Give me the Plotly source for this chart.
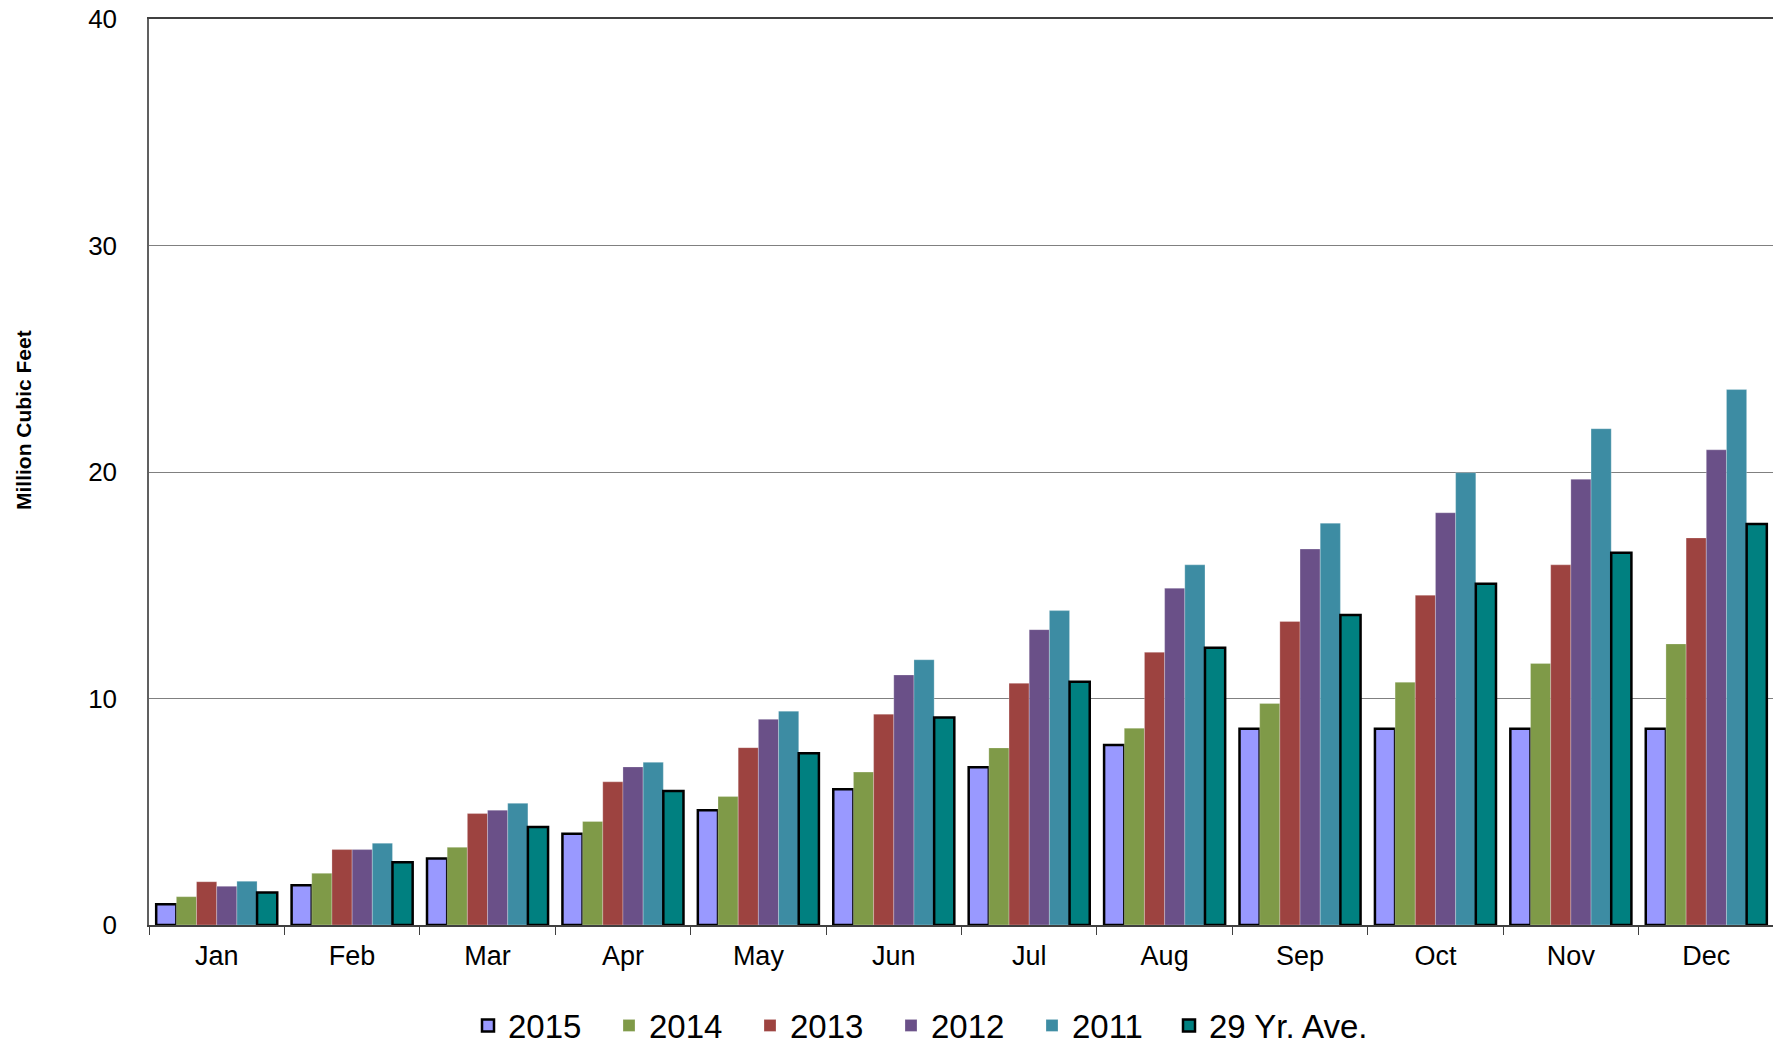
import plotly.graph_objects as go

months = ["Jan", "Feb", "Mar", "Apr", "May", "Jun", "Jul", "Aug", "Sep", "Oct", "Nov", "Dec"]
y2015 = [0.92, 1.75, 2.94, 4.03, 5.07, 5.99, 6.97, 7.95, 8.66, 8.66, 8.66, 8.66]
y2014 = [1.25, 2.28, 3.43, 4.57, 5.67, 6.75, 7.82, 8.69, 9.78, 10.72, 11.55, 12.41]
y2013 = [1.91, 3.33, 4.92, 6.32, 7.83, 9.31, 10.67, 12.04, 13.40, 14.56, 15.90, 17.09]
y2012 = [1.71, 3.33, 5.07, 6.98, 9.08, 11.04, 13.04, 14.87, 16.60, 18.20, 19.68, 20.98]
y2011 = [1.93, 3.61, 5.37, 7.18, 9.44, 11.71, 13.88, 15.90, 17.74, 19.97, 21.91, 23.64]
yavg = [1.44, 2.77, 4.33, 5.92, 7.58, 9.16, 10.74, 12.24, 13.69, 15.07, 16.43, 17.70]

series = [
    ("2015", y2015, "#9999FF", True, "legend"),
    ("2014", y2014, "#7F9A48", False, "legend"),
    ("2013", y2013, "#9D4340", False, "legend"),
    ("2012", y2012, "#6A5088", False, "legend"),
    ("2011", y2011, "#3D8CA3", False, "legend"),
    ("29 Yr. Ave.", yavg, "#008080", True, "legend2"),
]

# page body has an 8px margin, so the figure is drawn 8px right/down
OFF = 8
W, H = 1781 - OFF, 1045 - OFF
L, T, R = 149 - OFF, 19.3 - OFF, 7
BOTTOM = 924.6 - OFF
B = H - BOTTOM
PW, PH = W - L - R, BOTTOM - T

fig = go.Figure()
for name, vals, color, outlined, leg in series:
    fig.add_trace(go.Bar(
        x=months, y=vals, name=name, legend=leg,
        marker=dict(color=color,
                    line=dict(color="black" if outlined else "rgba(255,255,255,0.5)",
                              width=2.5 if outlined else 0.5)),
    ))

fig.add_annotation(
    text="<b>Million Cubic Feet</b>", textangle=-90,
    xref="paper", yref="paper", x=(23 - OFF - L) / PW, y=(BOTTOM - (420 - OFF)) / PH,
    xanchor="center", yanchor="middle", showarrow=False,
    font=dict(size=21, family="Liberation Sans, Arial, sans-serif", color="black"),
)

leg_font = dict(family="Liberation Sans, Arial, sans-serif", size=33)
leg_y = (BOTTOM - (1025 - OFF)) / PH

fig.update_layout(
    width=W, height=H,
    barmode="group", bargap=0.106, bargroupgap=0,
    plot_bgcolor="white", paper_bgcolor="white",
    margin=dict(l=L, r=R, t=T, b=B, autoexpand=False),
    font=dict(family="Liberation Sans, Arial, sans-serif", color="black"),
    showlegend=True,
    legend=dict(orientation="h", x=(468 - OFF - L) / PW, xanchor="left",
                y=leg_y, yanchor="middle", font=leg_font,
                entrywidth=96, entrywidthmode="pixels",
                itemwidth=30, tracegroupgap=0),
    legend2=dict(orientation="h", x=(1169 - OFF - L) / PW, xanchor="left",
                 y=leg_y, yanchor="middle", font=leg_font,
                 itemwidth=30, tracegroupgap=0),
    xaxis=dict(showline=True, linecolor="#404040", linewidth=1.5, mirror=True,
               ticks="outside", tickson="boundaries", ticklen=8, tickcolor="#404040",
               tickfont=dict(size=27), showgrid=False, ticklabelstandoff=6),
    yaxis=dict(range=[0, 40], dtick=10, showline=True, linecolor="#606060", linewidth=1.5, mirror=True,
               showgrid=True, gridcolor="#808080", gridwidth=1.2, ticklabeloverflow="allow",
               tickfont=dict(size=26), ticks="", zeroline=False, ticklabelstandoff=25),
)

fig.write_html("out.html")
